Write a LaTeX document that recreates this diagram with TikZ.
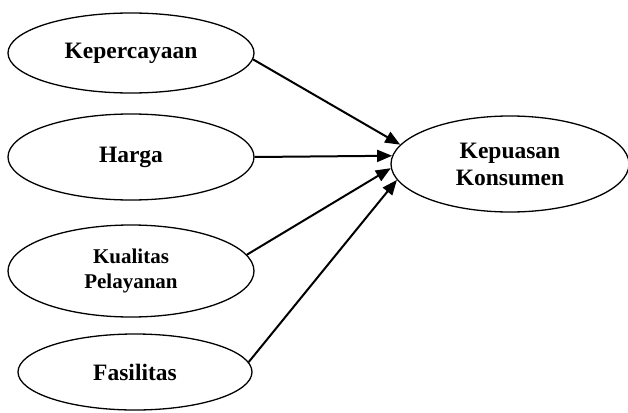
\documentclass[tikz,border=0pt]{standalone}
\usepackage{fontspec}
\setmainfont{Liberation Serif}
\usetikzlibrary{shapes.geometric,arrows.meta}
\tikzset{
  var/.style={draw, ellipse, line width=1.3pt, inner sep=0pt, align=center,
    font=\fontsize{23.5}{27}\selectfont\bfseries},
  link/.style={line width=2pt, -{Triangle[length=15pt,width=12pt]}}
}
\begin{document}
\begin{tikzpicture}[x=1pt,y=-1pt]
\useasboundingbox (0,0) rectangle (628,412);
\node[var, minimum width=246pt, minimum height=80pt] (kep) at (131,53) {Kepercayaan};
\node[var, minimum width=246pt, minimum height=86pt] (har) at (131,157) {Harga};
\node[var, minimum width=246pt, minimum height=92pt,
  font=\fontsize{21}{25}\selectfont\bfseries] (kua) at (131,271) {Kualitas\\Pelayanan};
\node[var, minimum width=234pt, minimum height=76pt] (fas) at (135,372) {Fasilitas};
\node[var, minimum width=238pt, minimum height=96pt] (kon) at (510,164) {Kepuasan\\Konsumen};
\draw[link] (kep.-3.3) -- (kon.170.2);
\draw[link] (har.0) -- (kon.176.6);
\draw[link] (kua.8.2) -- (kon.-178);
\draw[link] (fas.5.4) -- (kon.188.4);
\end{tikzpicture}
\end{document}
